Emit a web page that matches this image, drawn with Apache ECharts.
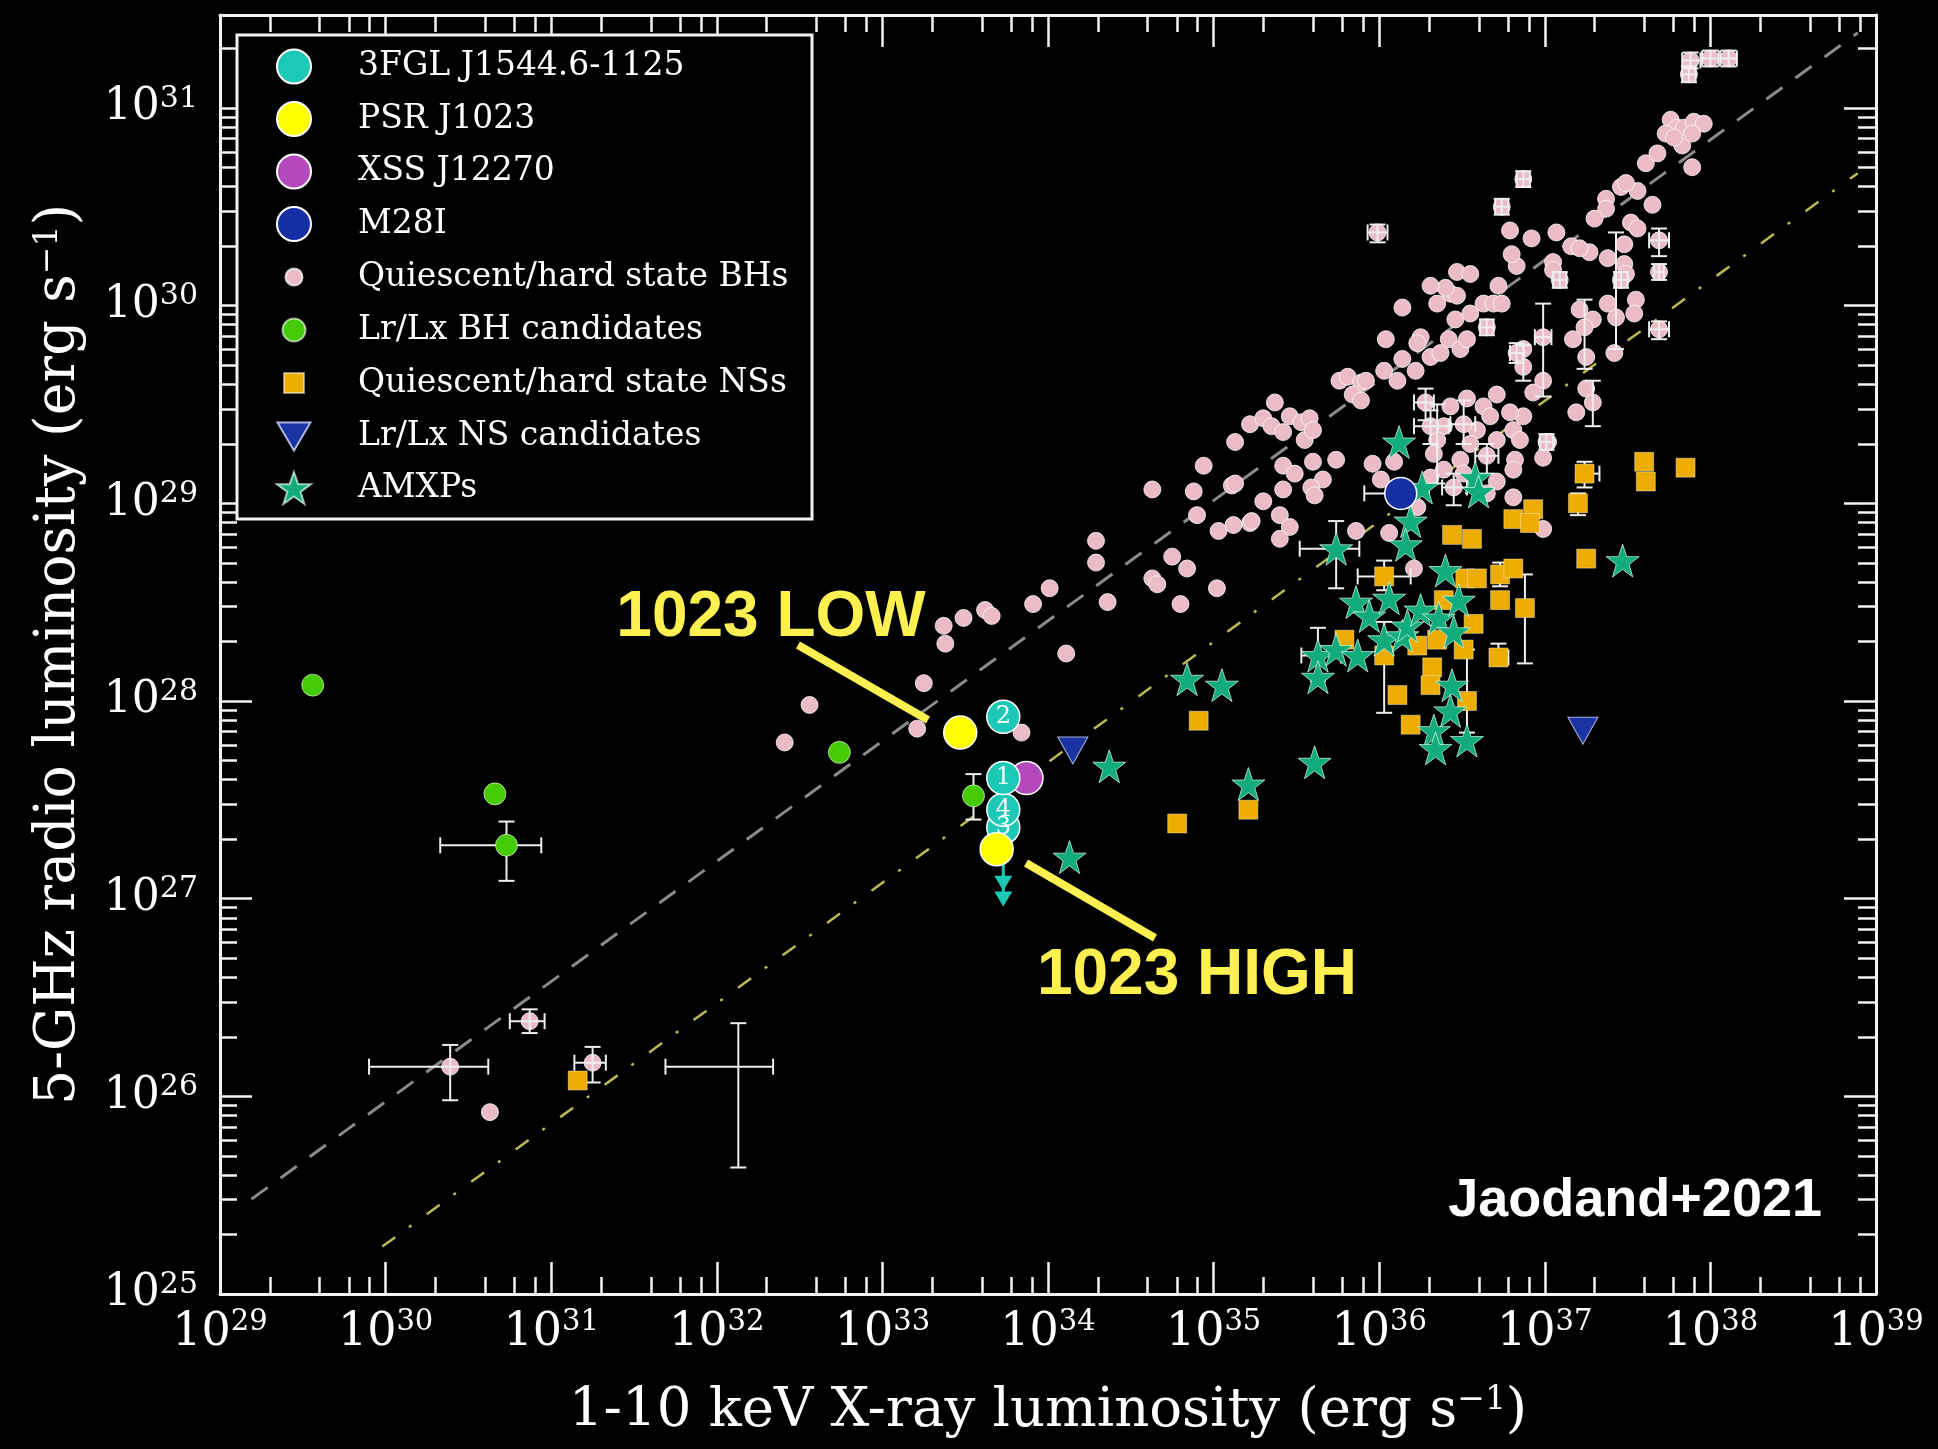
<!DOCTYPE html>
<html>
<head>
<meta charset="utf-8">
<script src="https://cdn.jsdelivr.net/npm/echarts@6/dist/echarts.min.js"></script>
<style>
html,body{margin:0;padding:0;background:#000;}
#chart{width:1938px;height:1449px;}
</style>
</head>
<body>
<div id="chart"></div>
<script>
// All values are log10 of luminosity in erg/s: [log10 Lx (1-10 keV), log10 Lr (5 GHz)]
const xTickLabels = [29, 30, 31, 32, 33, 34, 35, 36, 37, 38, 39];
const yTickLabels = [25, 26, 27, 28, 29, 30, 31];

const fgl1544 = [[33.73, 27.36], [33.73, 27.45], [33.73, 27.61], [33.73, 27.92]];
const fgl1544Labels = ['3', '4', '1', '2'];
const psrJ1023 = [[33.47, 27.84], [33.69, 27.25]];
const xssJ12270 = [[33.87, 27.61]];
const m28i = [[36.13, 29.05]];
const upperLimit1544 = [[33.73, 27.18, 27.04, 26.96]];

const bhQuiescent = [
  [30.87,26.38],[30.39,26.15],[31.25,26.17],[30.63,25.92],
  [32.41,27.79],[32.56,27.98],[33.21,27.86],[33.25,28.09],[33.37,28.38],[33.38,28.29],[33.49,28.42],[33.62,28.46],[33.66,28.43],[33.84,27.84],[33.91,28.49],[34.01,28.57],[34.11,28.24],[34.29,28.81],[34.29,28.70],[34.36,28.50],[34.63,28.62],[34.66,28.59],[34.75,28.73],[34.84,28.67],[34.80,28.49],[35.02,28.57],
  [34.63,29.07],[34.88,29.06],[34.90,28.94],[34.94,29.19],[35.03,28.86],[35.11,29.09],[35.12,28.89],[35.13,29.31],[35.22,29.40],[35.22,28.90],[35.13,29.10],[35.23,28.91],
  [35.30,29.43],[35.37,29.51],[35.35,29.39],[35.42,29.36],[35.46,29.44],[35.53,29.41],[35.58,29.43],[35.55,29.32],[35.60,29.37],[35.42,29.19],[35.49,29.15],[35.42,29.07],[35.60,29.21],[35.74,29.22],[35.66,29.12],[35.59,29.08],[35.61,29.04],[35.30,29.01],[35.40,28.94],[35.46,28.88],[35.40,28.82],
  [35.96,29.20],[36.01,29.12],[35.76,29.62],[35.81,29.64],[35.89,29.61],[35.84,29.55],[35.89,29.52],[35.92,29.62],[36.03,29.67],[36.11,29.62],[36.14,29.73],[36.22,29.67],[36.14,29.99],[36.04,29.83],[36.25,29.84],[36.23,29.81],[36.31,29.74],[36.37,29.76],[36.42,29.83],[36.49,29.78],[36.53,29.83],
  [36.35,30.01],[36.43,30.06],[36.47,30.05],[36.40,30.09],[36.46,29.93],[36.55,29.96],[36.31,30.10],[36.47,30.17],[36.55,30.16],[36.72,30.10],[36.63,30.01],[36.69,30.01],[36.74,30.01],[36.83,30.20],[36.80,30.26],[36.79,30.38],[36.92,30.34],[37.07,30.37],[37.16,30.30],[37.27,30.27],[37.21,30.29],[37.05,30.22],[37.05,30.18],[37.38,30.24],[37.48,30.31],[37.48,30.21],[37.49,30.16],[37.69,30.33],[37.69,30.17],[37.52,30.42],[37.56,30.39],[37.65,30.51],[37.46,30.60],[37.56,30.58],[37.37,30.54],[37.37,30.49],[37.30,30.44],[37.49,30.62],
  [37.61,30.72],[37.68,30.77],[37.83,30.81],[37.89,30.70],
  [37.69,29.88],[37.55,30.03],[37.54,29.96],[37.43,29.94],[37.38,30.01],[37.42,29.76],[37.21,29.98],[37.29,29.93],[37.24,29.89],[37.17,29.83],[37.25,29.74],[36.99,29.84],[37.25,29.58],[37.29,29.51],[37.19,29.46],[36.99,29.62],[36.93,29.56],[36.87,29.78],[36.87,29.69],[36.99,29.23],[37.02,29.31],[36.87,29.44],[36.79,29.46],[36.81,29.37],[36.85,29.32],[36.82,29.22],[36.81,29.17],
  [36.71,29.55],[36.63,29.49],[36.67,29.44],[36.71,29.32],[36.65,29.24],[36.59,29.37],[36.55,29.30],[36.53,29.53],[36.51,29.40],[36.71,29.11],[36.81,29.03],[36.65,29.05],[36.43,29.49],[36.39,29.39],[36.35,29.32],[36.33,29.25],[36.39,29.17],[36.31,29.13],[36.49,29.22],[36.51,29.15],[36.45,29.08],[36.28,29.51],[36.31,29.39],[36.09,29.21],[36.23,28.98],[36.99,28.87],[35.86,28.86],[36.06,28.85],[36.21,28.67],
  [35.99,30.37],[36.74,30.50],[36.87,30.64],[36.65,29.89],[36.83,29.76],[37.09,30.13],[37.01,29.31],[37.46,30.13],
  [37.88,31.24],[38.00,31.25],[38.11,31.25],[37.87,31.17],
  [37.76,30.94],[37.80,30.90],[37.84,30.90],[37.90,30.93],[37.96,30.92],[37.73,30.87],[37.89,30.87],[37.78,30.85]
];

const bhCandidates = [[29.56, 28.08], [30.66, 27.53], [30.73, 27.27], [32.74, 27.74], [33.55, 27.52]];

const nsQuiescent = [
  [31.16,26.08],[34.78,27.38],[34.91,27.90],[35.21,27.45],[35.79,28.31],[36.03,28.63],[36.03,28.23],[36.11,28.03],[36.19,27.88],[36.23,28.28],
  [36.32,28.17],[36.31,28.08],[36.35,28.31],[36.39,28.51],[36.51,28.26],[36.57,28.39],[36.52,28.62],[36.59,28.62],[36.53,28.00],[36.44,28.84],
  [36.56,28.82],[36.73,28.64],[36.81,28.67],[36.73,28.51],[36.88,28.47],[36.72,28.22],[36.81,28.92],[36.93,28.97],[37.20,29.00],[37.25,28.72],
  [37.24,29.15],[37.60,29.21],[37.61,29.11],[37.85,29.18],[36.91,28.90]
];

const nsCandidates = [[34.15, 27.77], [37.23, 27.87]];

const amxps = [
  [34.13,27.21],[34.37,27.67],[34.84,28.11],[35.05,28.08],[35.21,27.58],[35.61,27.69],[35.63,28.23],[35.63,28.12],[35.74,28.26],[35.87,28.23],
  [35.74,28.77],[35.86,28.50],[35.94,28.43],[36.06,28.52],[36.03,28.31],[36.14,28.33],[36.17,28.38],[36.25,28.46],[36.36,28.42],[36.40,28.66],
  [36.48,28.51],[36.45,28.35],[36.19,28.91],[36.16,28.79],[36.44,28.08],[36.43,27.95],[36.33,27.85],[36.34,27.76],[36.53,27.80],[37.47,28.71],
  [36.12,29.31],[36.26,29.08],[36.58,29.13],[36.60,29.06]
];

// error bars: [x, y, xLow, xHigh, yLow, yHigh]
const errorBars = [
  [30.87,26.38,30.75,30.96,26.32,26.44],[30.39,26.15,29.90,30.62,25.98,26.26],[31.25,26.17,31.14,31.33,26.07,26.25],
  [32.13,26.15,31.69,32.34,25.64,26.37],[30.73,27.27,30.33,30.94,27.09,27.39],[33.55,27.52,33.55,33.55,27.40,27.63],
  [35.99,30.37,35.93,36.05,30.32,30.41],[36.28,29.51,36.21,36.33,29.42,29.58],[36.99,29.84,36.94,37.04,29.54,30.01],
  [37.69,30.33,37.63,37.75,30.25,30.39],[37.69,30.17,37.66,37.72,30.13,30.21],[37.69,29.88,37.63,37.75,29.83,29.92],
  [37.24,29.89,37.24,37.24,29.68,30.03],[37.29,29.51,37.29,37.29,29.39,29.62],[37.43,29.94,37.43,37.43,29.78,30.37],
  [37.88,31.24,37.83,37.94,31.20,31.28],[38.00,31.25,37.95,38.05,31.21,31.29],[38.11,31.25,38.06,38.16,31.21,31.29],
  [37.87,31.17,37.83,37.91,31.13,31.21],[36.74,30.50,36.70,36.78,30.46,30.54],[36.87,30.64,36.83,36.91,30.60,30.68],
  [36.65,29.89,36.61,36.69,29.85,29.93],[36.83,29.76,36.79,36.87,29.71,29.81],[37.09,30.13,37.05,37.13,30.09,30.17],
  [37.01,29.31,36.97,37.05,29.27,29.35],[37.46,30.13,37.42,37.50,30.09,30.17],
  [36.31,29.39,36.21,36.42,29.30,29.47],[36.51,29.40,36.43,36.58,29.30,29.52],[36.35,29.32,36.35,36.35,29.10,29.50],
  [36.45,29.08,36.38,36.53,28.99,29.15],[36.65,29.24,36.58,36.72,29.15,29.30],[36.87,29.69,36.87,36.87,29.62,29.80],
  [35.74,28.77,35.52,35.88,28.57,28.91],[35.63,28.23,35.53,35.77,28.10,28.37],[36.13,29.05,35.91,36.30,29.05,29.05],
  [37.24,29.15,37.19,37.33,29.08,29.21],[37.20,29.00,37.16,37.24,28.94,29.05],[36.88,28.47,36.88,36.88,28.19,28.64],
  [36.72,28.22,36.68,36.78,28.18,28.29],[36.03,28.23,36.03,36.03,27.94,28.40],[36.73,28.64,36.73,36.73,28.58,28.70],
  [36.03,28.63,35.87,36.19,28.56,28.71],[36.53,28.00,36.53,36.53,27.84,28.26]
];

// correlation lines (endpoints)
const bhTrack = [[29.19, 25.48], [38.89, 31.38]];
const nsTrack = [[29.98, 25.24], [38.89, 30.67]];

// ---- styling / layout ----
const SERIF = 'DejaVu Serif';
const AXIS_COLOR = '#f2f2f2';
const STAR = 'path://M50,2 L61.8,36.2 L97.6,36.2 L68.6,57.8 L79.4,92 L50,71 L20.6,92 L31.4,57.8 L2.4,36.2 L38.2,36.2 Z';
const TRI_DOWN = 'path://M0,0 L20,0 L10,17 Z';
const SQUARE = 'path://M0,0 L10,0 L10,10 L0,10 Z';

const minorX = [];
for (let d = 29; d < 39; d++) [2, 4, 6, 8].forEach(k => minorX.push(d + Math.log10(k)));
const minorY = [];
for (let d = 25; d <= 31; d++) [2, 3, 4, 5, 6, 7, 8, 9].forEach(k => { const v = d + Math.log10(k); if (v < 31.47) minorY.push(v); });

const xRich = {
  b: { fontFamily: SERIF, fontSize: 46, color: '#fff', lineHeight: 50 },
  s: { fontFamily: SERIF, fontSize: 29, color: '#fff', lineHeight: 22, verticalAlign: 'top' }
};
const yRich = {
  b: { fontFamily: SERIF, fontSize: 44, color: '#fff', lineHeight: 48 },
  s: { fontFamily: SERIF, fontSize: 30, color: '#fff', lineHeight: 36, verticalAlign: 'top' }
};
const powLabel = v => '{b|10}{s|' + Math.round(v) + '}';

function xAx(position, ticks, len, withLine) {
  return {
    type: 'value', position: position, min: 29, max: 39,
    axisLine: { show: withLine, lineStyle: { color: AXIS_COLOR, width: 3 } },
    axisTick: { show: true, inside: true, length: len, customValues: ticks, lineStyle: { color: AXIS_COLOR, width: 2.5 } },
    axisLabel: { show: false },
    splitLine: { show: false }
  };
}
function yAx(position, ticks, len, withLine) {
  return {
    type: 'value', position: position, min: 25, max: 31.47,
    axisLine: { show: withLine, lineStyle: { color: AXIS_COLOR, width: 3 } },
    axisTick: { show: true, inside: true, length: len, customValues: ticks, lineStyle: { color: AXIS_COLOR, width: 2.5 } },
    axisLabel: { show: false },
    splitLine: { show: false }
  };
}

const xMain = xAx('bottom', xTickLabels, 32, true);
xMain.axisLabel = { show: true, customValues: xTickLabels, formatter: powLabel, rich: xRich, margin: 14 };
xMain.name = '1-10 keV X-ray luminosity (erg s{sup|\u22121})';
xMain.nameLocation = 'middle';
xMain.nameGap = 90;
xMain.nameTextStyle = { fontFamily: SERIF, fontSize: 54.5, color: '#fff',
  rich: { sup: { fontFamily: SERIF, fontSize: 33, color: '#fff', verticalAlign: 'top', lineHeight: 36 } } };

const yMain = yAx('left', yTickLabels, 32, true);
yMain.axisLabel = { show: true, customValues: yTickLabels, formatter: powLabel, rich: yRich, margin: 22 };
yMain.name = '5-GHz radio luminosity (erg s{sup|\u22121})';
yMain.nameLocation = 'middle';
yMain.nameGap = 132;
yMain.nameTextStyle = { fontFamily: SERIF, fontSize: 55.5, color: '#fff',
  rich: { sup: { fontFamily: SERIF, fontSize: 33, color: '#fff', verticalAlign: 'top', lineHeight: 36 } } };

function errRender(params, api) {
  const x = api.value(0), y = api.value(1);
  const c = api.coord([x, y]);
  const xl = api.coord([api.value(2), y]), xh = api.coord([api.value(3), y]);
  const yl = api.coord([x, api.value(4)]), yh = api.coord([x, api.value(5)]);
  const cap = 8;
  const st = { stroke: '#eeeeee', lineWidth: 2 };
  const ch = [];
  if (xh[0] - xl[0] > 1) {
    ch.push({ type: 'line', shape: { x1: xl[0], y1: c[1], x2: xh[0], y2: c[1] }, style: st });
    ch.push({ type: 'line', shape: { x1: xl[0], y1: c[1] - cap, x2: xl[0], y2: c[1] + cap }, style: st });
    ch.push({ type: 'line', shape: { x1: xh[0], y1: c[1] - cap, x2: xh[0], y2: c[1] + cap }, style: st });
  }
  if (yl[1] - yh[1] > 1) {
    ch.push({ type: 'line', shape: { x1: c[0], y1: yl[1], x2: c[0], y2: yh[1] }, style: st });
    ch.push({ type: 'line', shape: { x1: c[0] - cap, y1: yl[1], x2: c[0] + cap, y2: yl[1] }, style: st });
    ch.push({ type: 'line', shape: { x1: c[0] - cap, y1: yh[1], x2: c[0] + cap, y2: yh[1] }, style: st });
  }
  return { type: 'group', children: ch };
}

function arrowRender(params, api) {
  const x = api.value(0);
  const p0 = api.coord([x, api.value(1)]);
  const h1 = api.coord([x, api.value(2)]);
  const h2 = api.coord([x, api.value(3)]);
  const col = '#1cc9b6', hw = 9, hh = 15;
  return { type: 'group', children: [
    { type: 'line', shape: { x1: p0[0], y1: p0[1], x2: h2[0], y2: h2[1] - 6 }, style: { stroke: col, lineWidth: 3 } },
    { type: 'polygon', shape: { points: [[h1[0] - hw, h1[1] - hh], [h1[0] + hw, h1[1] - hh], [h1[0], h1[1]]] }, style: { fill: col } },
    { type: 'polygon', shape: { points: [[h2[0] - hw, h2[1] - hh], [h2[0] + hw, h2[1] - hh], [h2[0], h2[1]]] }, style: { fill: col } }
  ] };
}

// legend: the icon centre sits at x = 293, the text starts at x = 357
const legendText = (h) => ({ color: '#fff', fontFamily: SERIF, fontSize: 33, lineHeight: h });
function mkLegend(names, top, h, iconHalfWidth, gap) {
  return { orient: 'vertical', left: 293 - iconHalfWidth, top: top, itemWidth: 118, itemHeight: h, itemGap: gap,
    padding: 0, selectedMode: false, symbolKeepAspect: true, data: names, textStyle: legendText(h), z: 5 };
}

const SCATTER_OPACITY = 1;

const chart = echarts.init(document.getElementById('chart'), null, { renderer: 'canvas' });
chart.setOption({
  backgroundColor: '#000',
  animation: false,
  textStyle: { fontFamily: SERIF },
  grid: { left: 220, right: 62, top: 15, bottom: 155, containLabel: false },
  xAxis: [xMain, xAx('bottom', minorX, 17, false), xAx('top', xTickLabels, 32, true), xAx('top', minorX, 17, false)],
  yAxis: [yMain, yAx('left', minorY, 17, false), yAx('right', yTickLabels, 32, true), yAx('right', minorY, 18, false)],
  legend: [
    mkLegend(['3FGL J1544.6-1125', 'PSR J1023', 'XSS J12270', 'M28I'], 48.5, 34, 17, 16.5),
    mkLegend(['Quiescent/hard state BHs'], 260.5, 17, 8.5, 10),
    mkLegend(['Lr/Lx BH candidates'], 313.5, 23, 11.5, 10),
    mkLegend(['Quiescent/hard state NSs'], 366.5, 20, 10, 10),
    mkLegend(['Lr/Lx NS candidates'], 420, 28, 16.5, 10),
    mkLegend(['AMXPs'], 471, 32, 17, 10)
  ],
  graphic: { elements: [
    { type: 'rect', z: 3, shape: { x: 237, y: 35, width: 575, height: 484 }, style: { fill: '#000', stroke: '#f2f2f2', lineWidth: 3 } },
    { type: 'line', z: 10, shape: { x1: 798, y1: 645, x2: 928, y2: 720 }, style: { stroke: '#fdf050', lineWidth: 8 } },
    { type: 'line', z: 10, shape: { x1: 1026, y1: 863, x2: 1155, y2: 938 }, style: { stroke: '#fdf050', lineWidth: 8 } },
    { type: 'text', z: 10, x: 771, y: 618, style: { text: '1023 LOW', fill: '#fdf050', font: 'bold 64px "Liberation Sans", Arial, sans-serif', textAlign: 'center', textVerticalAlign: 'middle' } },
    { type: 'text', z: 10, x: 1197, y: 976, style: { text: '1023 HIGH', fill: '#fdf050', font: 'bold 64px "Liberation Sans", Arial, sans-serif', textAlign: 'center', textVerticalAlign: 'middle' } },
    { type: 'text', z: 10, x: 1822, y: 1201, style: { text: 'Jaodand+2021', fill: '#ffffff', font: 'bold 54px "Liberation Sans", Arial, sans-serif', textAlign: 'right', textVerticalAlign: 'middle' } }
  ] },
  series: [
    { name: 'BH track', type: 'line', data: bhTrack, symbol: 'none', silent: true, z: 1,
      lineStyle: { color: '#8a8a8a', width: 3, type: [20, 16] } },
    { name: 'NS track', type: 'line', data: nsTrack, symbol: 'none', silent: true, z: 1,
      lineStyle: { color: '#b9b955', width: 2.5, type: [16, 17, 3, 19] } },
    { name: 'Quiescent/hard state BHs', type: 'scatter', data: bhQuiescent, symbol: 'circle', symbolSize: 17, z: 2,
      itemStyle: { color: '#ebbcc8', borderColor: 'rgba(255,255,255,0.75)', borderWidth: 1, opacity: SCATTER_OPACITY } },
    { name: 'errors', type: 'custom', data: errorBars, renderItem: errRender, encode: { x: 0, y: 1 }, z: 3, silent: true },
    { name: 'Quiescent/hard state NSs', type: 'scatter', data: nsQuiescent, symbol: SQUARE, symbolSize: 19, z: 4,
      itemStyle: { color: '#ecac00', borderColor: 'rgba(255,255,255,0.5)', borderWidth: 0.8, opacity: SCATTER_OPACITY } },
    { name: 'AMXPs', type: 'scatter', data: amxps, symbol: STAR, symbolSize: 33, z: 5,
      itemStyle: { color: '#12ab7b', borderColor: 'rgba(220,255,240,0.7)', borderWidth: 1, opacity: SCATTER_OPACITY } },
    { name: 'Lr/Lx NS candidates', type: 'scatter', data: nsCandidates, symbol: TRI_DOWN, symbolSize: [30, 27], symbolOffset: [0, 4], z: 6,
      itemStyle: { color: '#1b34a3', borderColor: '#aab4dd', borderWidth: 1, opacity: SCATTER_OPACITY } },
    { name: 'Lr/Lx BH candidates', type: 'scatter', data: bhCandidates, symbol: 'circle', symbolSize: 22, z: 6,
      itemStyle: { color: '#46cc06', borderColor: 'rgba(255,255,255,0.6)', borderWidth: 1, opacity: SCATTER_OPACITY } },
    { name: 'XSS J12270', type: 'scatter', data: xssJ12270, symbol: 'circle', symbolSize: 33, z: 7,
      itemStyle: { color: '#b349bd', borderColor: '#ffffff', borderWidth: 1.5, opacity: SCATTER_OPACITY } },
    { name: 'M28I', type: 'scatter', data: m28i, symbol: 'circle', symbolSize: 32, z: 7,
      itemStyle: { color: '#1530a5', borderColor: '#ffffff', borderWidth: 1.5, opacity: SCATTER_OPACITY } },
    { name: 'upper limit', type: 'custom', data: upperLimit1544, renderItem: arrowRender, encode: { x: 0, y: 1 }, z: 7, silent: true },
    { name: '3FGL J1544.6-1125', type: 'scatter', data: fgl1544, symbol: 'circle', symbolSize: 33, z: 8,
      itemStyle: { color: '#1cc9b6', borderColor: '#ffffff', borderWidth: 1.5, opacity: SCATTER_OPACITY },
      label: { show: true, position: 'inside', formatter: p => fgl1544Labels[p.dataIndex], color: '#fff', fontFamily: SERIF, fontSize: 24 } },
    { name: 'PSR J1023', type: 'scatter', data: psrJ1023, symbol: 'circle', symbolSize: 33, z: 9,
      itemStyle: { color: '#ffff00', borderColor: '#ffffff', borderWidth: 1.5, opacity: SCATTER_OPACITY } }
  ]
});
</script>
</body>
</html>
